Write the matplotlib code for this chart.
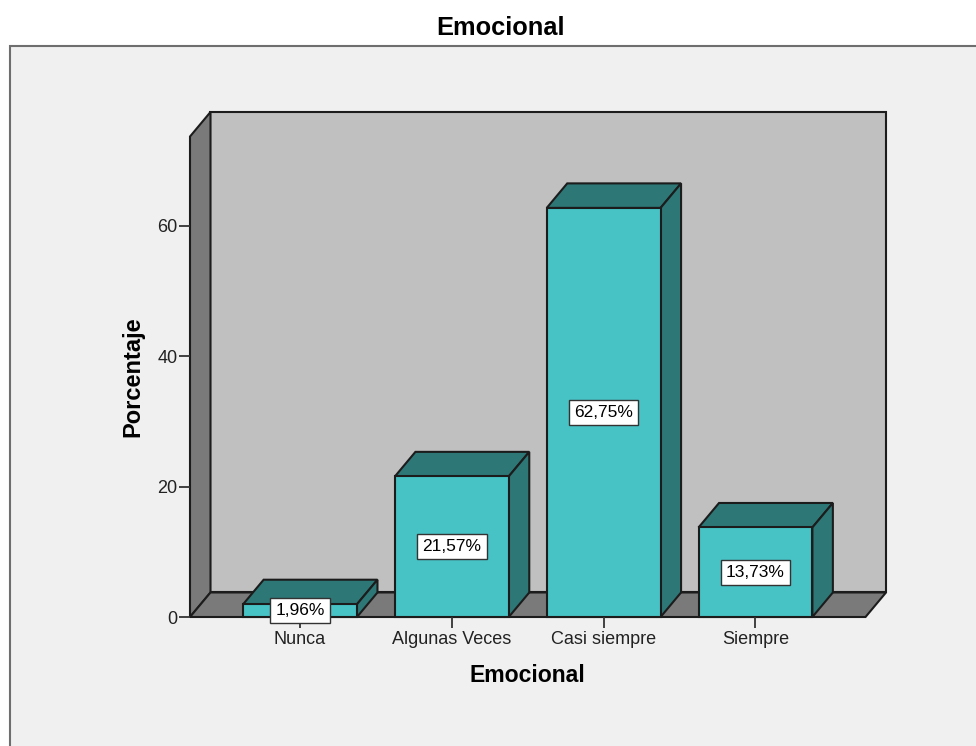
import matplotlib.pyplot as plt
from matplotlib.patches import Polygon, Rectangle

plt.rcParams['font.family'] = ['Liberation Sans', 'DejaVu Sans']

categories = ['Nunca', 'Algunas Veces', 'Casi siempre', 'Siempre']
percent = [1.96, 21.57, 62.75, 13.73]
yticks = [0, 20, 40, 60]
ymax = 73.7

# 3d look: depth offset in data units
DX = 0.135
DY = 3.76
W = 0.75
x0, x1 = -0.725, len(categories) - 1 + 0.725

front = '#47c2c5'
dark = '#2d7777'
edge = '#1c1c1c'

fig = plt.figure(figsize=(9.76, 7.46), dpi=100)
fig.add_artist(Rectangle((9.5 / 976, -0.01), 1.1, (746 - 46) / 746 + 0.01,
                         transform=fig.transFigure, facecolor='#f0f0f0',
                         edgecolor='#6e6e6e', linewidth=1.5, zorder=0))

ax = fig.add_axes([190 / 976, (746 - 617) / 746, (886 - 190) / 976, (617 - 112) / 746])
ax.set_facecolor('none')
ax.set_xlim(x0, x1 + DX)
ax.set_ylim(0, ymax + DY)
for s in ax.spines.values():
    s.set_visible(False)

# walls and floor
ax.add_patch(Polygon([(x0 + DX, DY), (x1 + DX, DY), (x1 + DX, ymax + DY), (x0 + DX, ymax + DY)],
                     closed=True, facecolor='#c0c0c0', edgecolor=edge, lw=1.5, clip_on=False))
ax.add_patch(Polygon([(x0, 0), (x0 + DX, DY), (x0 + DX, ymax + DY), (x0, ymax)],
                     closed=True, facecolor='#7a7a7a', edgecolor=edge, lw=1.5, clip_on=False))
ax.add_patch(Polygon([(x0, 0), (x1, 0), (x1 + DX, DY), (x0 + DX, DY)],
                     closed=True, facecolor='#7a7a7a', edgecolor=edge, lw=1.5, clip_on=False))

# bars
for i, v in enumerate(percent):
    l, r = i - W / 2, i + W / 2
    ax.add_patch(Polygon([(l, v), (r, v), (r + DX, v + DY), (l + DX, v + DY)],
                         closed=True, facecolor=dark, edgecolor=edge, lw=1.5, clip_on=False))
    ax.add_patch(Polygon([(r, 0), (r + DX, DY), (r + DX, v + DY), (r, v)],
                         closed=True, facecolor=dark, edgecolor=edge, lw=1.5, clip_on=False))
    ax.add_patch(Rectangle((l, 0), W, v, facecolor=front, edgecolor=edge, lw=1.5, clip_on=False))
    ax.text(i, v / 2, f'{v:.2f}'.replace('.', ',') + '%', ha='center', va='center',
            fontsize=12.5, zorder=10, clip_on=False,
            bbox=dict(boxstyle='square,pad=0.3', facecolor='white', edgecolor='#333333', lw=1))

ax.set_xticks(range(len(categories)))
ax.set_xticklabels(categories)
ax.set_yticks(yticks)
ax.tick_params(axis='both', labelsize=13, length=8, width=1.3, color='#333333', labelcolor='#222222')
ax.tick_params(axis='x', pad=2)
ax.tick_params(axis='y', pad=1)

fig.text(501 / 976, 1 - 28 / 746, 'Emocional', ha='center', va='center',
         fontsize=18.3, fontweight='bold')
fig.text(527.5 / 976, 1 - 675 / 746, 'Emocional', ha='center', va='center',
         fontsize=16.6, fontweight='bold')
fig.text(133 / 976, 1 - 377 / 746, 'Porcentaje', ha='center', va='center',
         rotation=90, fontsize=17, fontweight='bold')

fig.savefig('out.png', dpi=100)
